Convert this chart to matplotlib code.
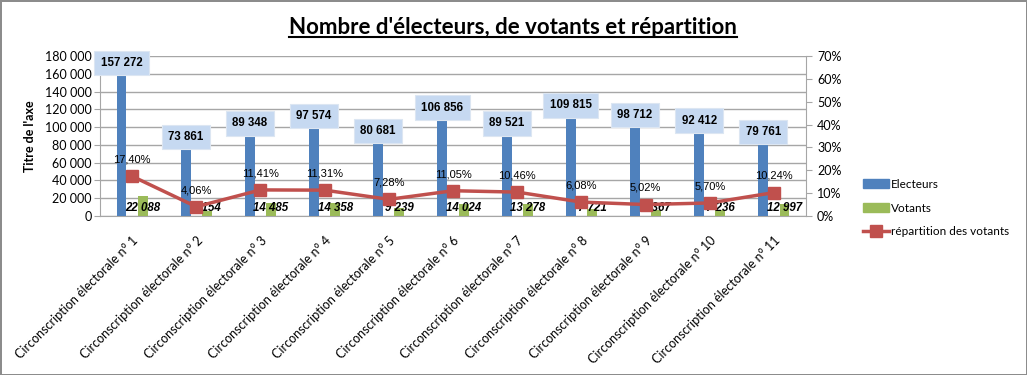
import matplotlib
matplotlib.use("Agg")
import matplotlib.pyplot as plt
import numpy as np
from matplotlib.lines import Line2D
from matplotlib.patches import Patch

categories = [f"Circonscription électorale n° {i}" for i in range(1, 12)]
electeurs = [157272, 73861, 89348, 97574, 80681, 106856, 89521, 109815, 98712, 92412, 79761]
votants = [22088, 5154, 14485, 14358, 9239, 14024, 13278, 7721, 6367, 7236, 12997]
repartition = [17.40, 4.06, 11.41, 11.31, 7.28, 11.05, 10.46, 6.08, 5.02, 5.70, 10.24]

BLUE = "#4F81BD"
GREEN = "#9BBB59"
RED = "#C0504D"
GRID = "#A6A6A6"
LAB = ["Lato", "DejaVu Sans"]
NARROW = ["Liberation Sans", "DejaVu Sans"]

def fmt(v):
    return f"{v:,}".replace(",", " ")

fig = plt.figure(figsize=(10.27, 3.75), dpi=100)
fig.patch.set_facecolor("white")
fig.patch.set_edgecolor("#8C8C8C")
fig.patch.set_linewidth(2)

ax = fig.add_axes([100/1027, 1-216/375, 706/1027, 160/375])
ax2 = ax.twinx()

x = np.arange(len(categories))
w = 0.155
off = 0.165
ax.bar(x - off, electeurs, w, color=BLUE, zorder=3, label="Electeurs")
ax.bar(x + off, votants, w, color=GREEN, zorder=3, label="Votants")

ax.set_xlim(-0.5, len(categories) - 0.5)
ax.set_ylim(0, 180000)
ax.set_yticks(np.arange(0, 180001, 20000))
ax.set_yticklabels([fmt(v) for v in range(0, 180001, 20000)], fontsize=9, family=LAB)
ax.yaxis.grid(True, color=GRID, linewidth=1, zorder=0)
ax.set_axisbelow(True)
for s in ["top", "right"]:
    ax.spines[s].set_visible(False)
for s in ["left", "bottom"]:
    ax.spines[s].set_color(GRID)
ax.tick_params(axis="y", length=4, color=GRID, pad=2)
ax.set_xticks(x)
ax.set_xticklabels(categories, rotation=45, ha="right", rotation_mode="anchor",
                   fontsize=9, family=LAB)
ax.tick_params(axis="x", length=0, pad=13)
ax.set_ylabel("Titre de l'axe", fontsize=9, fontweight="bold", family=LAB, labelpad=6)

ax2.plot(x, repartition, color=RED, linewidth=2.5, marker="s", markersize=8,
         markerfacecolor=RED, markeredgecolor=RED, zorder=5, label="répartition des votants")
ax2.set_ylim(0, 70)
ax2.set_yticks(np.arange(0, 71, 10))
ax2.set_yticklabels([f"{v}%" for v in range(0, 71, 10)], fontsize=9, family=LAB)
for s in ["top", "left", "bottom"]:
    ax2.spines[s].set_visible(False)
ax2.spines["right"].set_color(GRID)
ax2.tick_params(axis="y", length=4, color=GRID, pad=4)

# labels
for xi, v in zip(x, electeurs):
    ax.annotate(fmt(v), (xi - off, v), xytext=(0, 9.5), textcoords="offset points",
                ha="center", va="center", fontsize=8.3, fontweight="bold", family=NARROW,
                bbox=dict(boxstyle="square,pad=0.55", facecolor="#C6D9F1",
                          edgecolor="#DCE6F2", linewidth=0.8), zorder=6)
for xi, v in zip(x, votants):
    ax.text(xi + off, 9000, fmt(v), ha="center", va="center", fontsize=8.3,
            fontweight="bold", fontstyle="italic", family=NARROW, zorder=6)
for xi, v in zip(x, repartition):
    ax2.annotate(f"{v:.2f}%".replace(".", ","), (xi, v), xytext=(0, 12),
                 textcoords="offset points", ha="center", va="center",
                 fontsize=8, family=NARROW, zorder=7)

handles = [Patch(facecolor=BLUE, edgecolor=BLUE),
           Patch(facecolor=GREEN, edgecolor=GREEN),
           Line2D([0], [0], color=RED, linewidth=2.5, marker="s", markersize=8)]
fig.legend(handles, ["Electeurs", "Votants", "répartition des votants"],
           loc="center left", bbox_to_anchor=(857/1027, 1-208/375), frameon=False,
           prop={"family": LAB, "size": 8.5}, handlelength=2.2, handletextpad=0.2,
           labelspacing=1.1, borderpad=0)

title = fig.text(513/1027, 1-27/375, "Nombre d'électeurs, de votants et répartition",
                 ha="center", va="center", fontsize=16, fontweight="bold", family=LAB)
fig.canvas.draw()
bb = title.get_window_extent().transformed(fig.transFigure.inverted())
fig.add_artist(Line2D([bb.x0, bb.x1], [bb.y0 + 0.002, bb.y0 + 0.002],
                      transform=fig.transFigure, color="black", linewidth=1.5))

fig.savefig("out.png", dpi=100, facecolor=fig.get_facecolor(), edgecolor=fig.get_edgecolor())
